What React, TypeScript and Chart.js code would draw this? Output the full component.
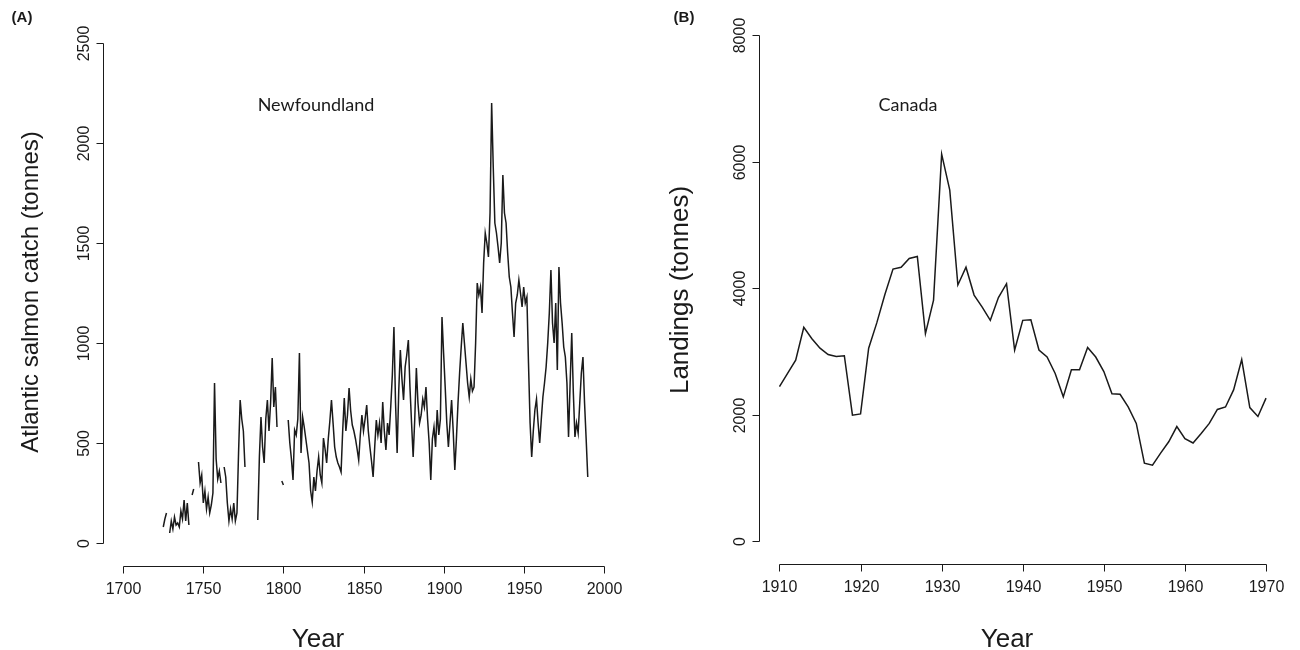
import React, { useEffect, useRef } from "react";
import { Chart, registerables } from "chart.js";

Chart.register(...registerables);

// ---------- Panel A: Newfoundland Atlantic salmon catch (tonnes), annual 1725-1990 ----------
const nfFirstYear = 1725;
const nfCatch: (number | null)[] = [
  // 1725-1734
  80, 120, 150, null, 50, 110, 70, 130, 90, 100,
  // 1735-1744
  80, 160, 120, 215, 110, 200, 90, null, 240, 270,
  // 1745-1754
  null, null, 405, 300, 340, 200, 260, 170, 230, 150,
  // 1755-1764
  190, 250, 800, 420, 320, 360, 300, null, 380, 330,
  // 1765-1774
  200, 110, 170, 120, 200, 110, 150, 450, 715, 620,
  // 1775-1784
  560, 380, null, null, null, null, null, null, null, 115,
  // 1785-1794
  430, 630, 480, 400, 620, 715, 560, 700, 925, 680,
  // 1795-1804
  780, 580, null, null, 310, 290, null, null, 615, 500,
  // 1805-1814
  420, 315, 565, 540, 620, 950, 450, 630, 580, 520,
  // 1815-1824
  460, 400, 260, 205, 330, 260, 360, 430, 340, 300,
  // 1825-1834
  525, 470, 400, 520, 610, 715, 600, 480, 430, 400,
  // 1835-1844
  380, 355, 560, 725, 560, 640, 775, 660, 590, 560,
  // 1845-1854
  520, 470, 415, 540, 640, 560, 620, 690, 560, 480,
  // 1855-1864
  410, 330, 480, 615, 540, 600, 500, 705, 560, 465,
  // 1865-1874
  600, 540, 680, 840, 1080, 700, 450, 760, 965, 820,
  // 1875-1884
  715, 880, 940, 1015, 780, 600, 430, 620, 875, 700,
  // 1885-1894
  600, 640, 720, 680, 780, 620, 500, 315, 520, 580,
  // 1895-1904
  480, 665, 540, 620, 1130, 950, 780, 600, 480, 600,
  // 1905-1914
  715, 560, 365, 520, 700, 850, 980, 1100, 1000, 900,
  // 1915-1924
  800, 730, 820, 760, 780, 1000, 1300, 1240, 1280, 1150,
  // 1925-1934
  1400, 1550, 1500, 1430, 1650, 2200, 1880, 1600, 1550, 1480,
  // 1935-1944
  1400, 1500, 1840, 1650, 1600, 1450, 1330, 1280, 1150, 1030,
  // 1945-1954
  1200, 1240, 1315, 1250, 1180, 1280, 1200, 1230, 900, 600,
  // 1955-1964
  430, 560, 665, 720, 600, 500, 620, 730, 800, 880,
  // 1965-1974
  1000, 1150, 1365, 1100, 1000, 1200, 865, 1380, 1200, 1100,
  // 1975-1984
  980, 930, 800, 530, 800, 1050, 750, 530, 600, 550,
  // 1985-1990
  700, 850, 930, 700, 520, 330,
];
const nfXTicks = [1700, 1750, 1800, 1850, 1900, 1950, 2000];
const nfYTicks = [0, 500, 1000, 1500, 2000, 2500];

// ---------- Panel B: Canada landings (tonnes), annual 1910-1970 ----------
const caFirstYear = 1910;
const caLandings: number[] = [
  // 1910-1919
  2440, 2650, 2860, 3380, 3200, 3050, 2950, 2920, 2930, 1990,
  // 1920-1929
  2010, 3050, 3450, 3900, 4300, 4330, 4470, 4500, 3280, 3810,
  // 1930-1939
  6120, 5550, 4050, 4330, 3890, 3700, 3490, 3850, 4070, 3020,
  // 1940-1949
  3490, 3500, 3020, 2910, 2650, 2280, 2710, 2710, 3060, 2910,
  // 1950-1959
  2680, 2330, 2320, 2120, 1860, 1230, 1200, 1390, 1570, 1810,
  // 1960-1970
  1620, 1550, 1700, 1860, 2080, 2120, 2390, 2870, 2110, 1970, 2260,
];
const caXTicks = [1910, 1920, 1930, 1940, 1950, 1960, 1970];
const caYTicks = [0, 2000, 4000, 6000, 8000];

type PanelCfg = {
  xTicks: number[];
  yTicks: number[];
  xTitle: string;
  xTitleX: number;
  yTitle: string;
  yTitleX: number;
  yTitleY: number;
  yTitleSize: number;
  panel: string;
  panelX: number;
  note: string;
  noteX: number;
  noteY: number;
};

const INK = "#1a1a1a";
const FAMILY = '"Liberation Sans", Arial, sans-serif';

const rAxesPlugin = {
  id: "rAxes",
  afterDraw(chart: any, _args: any, opts: PanelCfg) {
    const { ctx, chartArea, scales } = chart;
    const xs = scales.x;
    const ys = scales.y;
    ctx.save();
    ctx.strokeStyle = INK;
    ctx.fillStyle = INK;
    ctx.lineWidth = 1;

    // x axis (R style: line spans first..last tick)
    const yb = Math.round(chartArea.bottom) + 0.5;
    const xp = opts.xTicks.map((v) => Math.round(xs.getPixelForValue(v)) + 0.5);
    ctx.beginPath();
    ctx.moveTo(xp[0], yb);
    ctx.lineTo(xp[xp.length - 1], yb);
    xp.forEach((p) => {
      ctx.moveTo(p, yb);
      ctx.lineTo(p, yb + 7);
    });
    ctx.stroke();
    ctx.font = "16px " + FAMILY;
    ctx.textAlign = "center";
    ctx.textBaseline = "middle";
    opts.xTicks.forEach((v, i) => ctx.fillText(String(v), xp[i], yb + 23));

    // y axis
    const xl = Math.round(chartArea.left) - 0.5;
    const yp = opts.yTicks.map((v) => Math.round(ys.getPixelForValue(v)) + 0.5);
    ctx.beginPath();
    ctx.moveTo(xl, yp[0]);
    ctx.lineTo(xl, yp[yp.length - 1]);
    yp.forEach((p) => {
      ctx.moveTo(xl, p);
      ctx.lineTo(xl - 7, p);
    });
    ctx.stroke();
    opts.yTicks.forEach((v, i) => {
      ctx.save();
      ctx.translate(xl - 19, yp[i]);
      ctx.rotate(-Math.PI / 2);
      ctx.fillText(String(v), 0, 0);
      ctx.restore();
    });

    // axis titles
    ctx.font = "26px " + FAMILY;
    ctx.fillText(opts.xTitle, opts.xTitleX, 640);
    ctx.save();
    ctx.translate(opts.yTitleX, opts.yTitleY);
    ctx.rotate(-Math.PI / 2);
    ctx.font = opts.yTitleSize + "px " + FAMILY;
    ctx.fillText(opts.yTitle, 0, 0);
    ctx.restore();

    // panel letter
    ctx.font = "bold 15px " + FAMILY;
    ctx.fillText(opts.panel, opts.panelX, 18);

    // annotation
    ctx.font = '18px Lato, "Open Sans", sans-serif';
    ctx.fillText(opts.note, opts.noteX, opts.noteY);
    ctx.restore();
  },
};

function makeChart(
  canvas: HTMLCanvasElement,
  points: { x: number; y: number | null }[],
  xRange: [number, number],
  yRange: [number, number],
  padding: { left: number; right: number; top: number; bottom: number },
  cfg: PanelCfg,
  lineWidth: number
) {
  return new Chart(canvas, {
    type: "line",
    data: {
      datasets: [
        {
          data: points as any,
          borderColor: INK,
          borderWidth: lineWidth,
          pointRadius: 0,
          spanGaps: false,
          tension: 0,
          fill: false,
        },
      ],
    },
    options: {
      animation: false,
      responsive: false,
      events: [],
      layout: { padding },
      plugins: {
        legend: { display: false },
        tooltip: { enabled: false },
        title: { display: false },
        rAxes: cfg,
      } as any,
      scales: {
        x: { type: "linear", display: false, min: xRange[0], max: xRange[1] },
        y: { type: "linear", display: false, min: yRange[0], max: yRange[1] },
      },
    },
    plugins: [rAxesPlugin],
  });
}

export default function App() {
  const leftRef = useRef<HTMLCanvasElement>(null);
  const rightRef = useRef<HTMLCanvasElement>(null);

  useEffect(() => {
    const nfPoints = nfCatch.map((v, i) => ({ x: nfFirstYear + i, y: v }));
    const caPoints = caLandings.map((v, i) => ({ x: caFirstYear + i, y: v }));

    const left = makeChart(
      leftRef.current!,
      nfPoints,
      [1688, 2012],
      [-115, 2600],
      { left: 104, right: 27, top: 23, bottom: 84 },
      {
        xTicks: nfXTicks,
        yTicks: nfYTicks,
        xTitle: "Year",
        xTitleX: 318,
        yTitle: "Atlantic salmon catch (tonnes)",
        yTitleX: 31,
        yTitleY: 292,
        yTitleSize: 24,
        panel: "(A)",
        panelX: 22,
        note: "Newfoundland",
        noteX: 316,
        noteY: 105,
      },
      1.5
    );
    const right = makeChart(
      rightRef.current!,
      caPoints,
      [1907.6, 1972.4],
      [-364, 8320],
      { left: 110, right: 14.5, top: 15, bottom: 86 },
      {
        xTicks: caXTicks,
        yTicks: caYTicks,
        xTitle: "Year",
        xTitleX: 357,
        yTitle: "Landings (tonnes)",
        yTitleX: 31,
        yTitleY: 290,
        yTitleSize: 26,
        panel: "(B)",
        panelX: 34,
        note: "Canada",
        noteX: 258,
        noteY: 105,
      },
      1.5
    );
    return () => {
      left.destroy();
      right.destroy();
    };
  }, []);

  return (
    <div
      style={{
        position: "absolute",
        left: 0,
        top: 0,
        width: 1300,
        height: 650,
        background: "#fff",
        overflow: "hidden",
      }}
    >
      <canvas
        ref={leftRef}
        width={650}
        height={650}
        style={{ position: "absolute", left: 0, top: 0, width: 650, height: 650 }}
      />
      <canvas
        ref={rightRef}
        width={650}
        height={650}
        style={{ position: "absolute", left: 650, top: 0, width: 650, height: 650 }}
      />
    </div>
  );
}
